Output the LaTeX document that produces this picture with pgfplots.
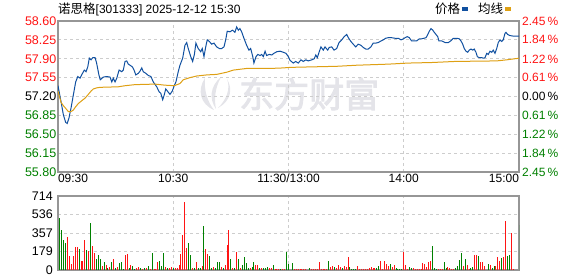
\documentclass[border=0pt]{standalone}
\usepackage{fontspec}
\setmainfont{Liberation Sans}
\newfontfamily\cjk{Noto Sans CJK SC}
\newfontfamily\cjkbold[FakeBold=2.5]{Noto Sans CJK SC}
\usepackage{pgfplots}
\pgfplotsset{compat=1.18}
\definecolor{pblue}{RGB}{16,80,160}
\definecolor{avgor}{RGB}{222,160,20}
\definecolor{upred}{RGB}{255,20,20}
\definecolor{dngreen}{RGB}{0,128,0}
\definecolor{framec}{RGB}{150,150,150}
\definecolor{gridc}{RGB}{205,205,205}
\definecolor{wm}{RGB}{228,228,233}
\begin{document}
\begin{tikzpicture}[x=1pt,y=1pt]
\path[use as bounding box] (0,0) rectangle (578,276);
% watermark logo and text
\fill[wm] (214,166) .. controls (200,172) and (197,186) .. (205,198) .. controls (204,186) and (207,175) .. (214,166);
\fill[wm] (216,167) .. controls (209,177) and (210,190) .. (221,199) .. controls (215,188) and (214,177) .. (216,167);
\fill[wm] (218,168) .. controls (226,176) and (231,187) .. (227,197) .. controls (233,187) and (231,175) .. (218,168);
\node[text=wm, font=\cjkbold\fontsize{35}{35}\selectfont, anchor=west, inner sep=0pt] at (239,182) {东方财富};
\node[anchor=west, inner sep=0pt] at (58,267) {{\cjk\fontsize{12.5}{12.5}\selectfont 诺思格}\fontsize{12}{12}\selectfont[301333] 2025-12-12 15:30};
% price axis
\begin{axis}[
  at={(58pt,104pt)}, anchor=south west,
  scale only axis, width=461pt, height=151pt,
  xmin=0, xmax=240, ymin=55.80, ymax=58.60,
  axis line style={framec, line width=1.1pt},
  tick style={draw=none},
  /pgf/number format/assume math mode=true,
  xtick={0,60,120,180,240},
  xticklabels={\makebox[0pt][l]{09:30},10:30,11:30/13:00,14:00,\makebox[0pt][r]{15:00}},
  xticklabel style={font=\fontsize{12}{12}\selectfont, inner sep=1pt, yshift=-1pt},
  ytick={55.80,56.15,56.50,56.85,57.20,57.55,57.90,58.25,58.60},
  yticklabels={\textcolor{dngreen}{55.80},\textcolor{dngreen}{56.15},\textcolor{dngreen}{56.50},\textcolor{dngreen}{56.85},57.20,\textcolor{upred}{57.55},\textcolor{upred}{57.90},\textcolor{upred}{58.25},\textcolor{upred}{58.60}},
  yticklabel style={font=\fontsize{12.5}{12.5}\selectfont, inner sep=1.5pt},
  xmajorgrids, ymajorgrids,
  major grid style={gridc, dash pattern=on 3pt off 3pt, line width=0.8pt},
  legend style={at={(axis description cs:0.99,1.08)}, anchor=east, draw=none, fill=none,
    font=\cjk\fontsize{12.5}{12.5}\selectfont, legend columns=2,
    /tikz/every even column/.append style={column sep=8pt}},
  legend plot pos=right,
  legend image code/.code={\fill (1pt,-1.5pt) rectangle (6pt,1.5pt);},
]
\addplot[color=pblue, line width=1pt] coordinates {
(0,57.40)(1.6,57.10)(2.8,56.86)(4.0,56.72)(4.8,56.70)(5.7,56.80)(6.8,56.99)(8.0,57.23)(9.2,57.47)(10.3,57.57)
(11.5,57.54)(12.3,57.60)(13.7,57.69)(14.6,57.66)(15.5,57.75)(16.3,57.91)(17.2,57.88)(18.1,57.92)(19.3,57.92)(20.1,57.82)
(21.3,57.60)(22.0,57.51)(23.6,57.56)(25.4,57.57)(27.1,57.56)(28.0,57.47)(28.8,57.54)(29.7,57.47)(30.6,57.54)(31.8,57.69)
(33.2,57.66)(34.0,57.69)(34.9,57.85)(35.8,57.86)(36.6,57.80)(37.5,57.78)(38.7,57.75)(39.6,57.69)(40.5,57.60)(41.8,57.63)
(42.7,57.67)(43.6,57.73)(44.4,57.66)(45.7,57.63)(47.0,57.59)(48.4,57.57)(49.6,57.47)(51.4,57.38)(52.6,57.29)(53.5,57.26)
(54.5,57.14)(55.3,57.23)(56.1,57.34)(57.4,57.28)(58.3,57.24)(59.5,57.30)(60.5,57.40)(61.4,57.47)(62.6,57.66)(63.5,57.78)
(64.9,57.91)(66.1,58.15)(67.0,58.20)(67.8,58.09)(69.1,57.94)(70.1,57.85)(71.0,57.98)(71.8,58.19)(73.0,58.09)(74.3,58.03)
(75.1,58.09)(76.0,57.94)(76.9,58.12)(77.7,58.25)(78.8,58.22)(80.0,58.17)(81.2,58.19)(82.6,58.12)(84.0,58.09)(85.2,58.09)
(86.4,58.12)(87.3,58.25)(88.1,58.41)(89.5,58.40)(90.9,58.43)(92.1,58.39)(93.0,58.49)(93.9,58.43)(94.7,58.46)(95.6,58.40)
(96.8,58.28)(98.2,58.15)(99.4,58.06)(100.3,58.09)(101.4,57.94)(102.0,57.82)(103.1,57.94)(104.0,57.98)(105.2,57.96)(106.0,57.98)
(106.9,57.94)(107.8,58.04)(108.6,57.96)(110.0,57.98)(111.3,57.97)(112.4,58.00)(113.9,58.03)(115.6,58.04)(117.3,58.02)(118.7,58.00)
(119.9,57.94)(120.8,57.87)(122.5,57.82)(123.7,57.85)(125.1,57.82)(126.5,57.88)(127.7,57.85)(129.0,57.88)(130.3,57.86)(132.1,57.88)
(133.4,57.90)(134.2,57.97)(135.0,57.92)(135.9,58.02)(136.9,58.12)(138.1,58.06)(139.0,58.12)(140.4,58.06)(141.2,58.11)(142.5,58.12)
(143.7,58.06)(145.1,58.09)(146.3,58.20)(147.7,58.25)(149.0,58.31)(150.3,58.35)(151.5,58.27)(152.5,58.22)(153.7,58.17)(155.0,58.12)
(156.3,58.17)(157.7,58.15)(158.9,58.11)(160.2,58.08)(161.5,58.08)(162.9,58.12)(164.1,58.19)(165.4,58.19)(166.7,58.20)(168.2,58.23)
(169.3,58.25)(170.6,58.28)(171.9,58.29)(173.7,58.29)(175.4,58.28)(177.2,58.28)(178.6,58.25)(179.8,58.27)(180.7,58.29)(181.8,58.31)
(182.9,58.29)(184.1,58.23)(185.3,58.23)(186.7,58.23)(188.1,58.27)(189.3,58.27)(190.5,58.28)(191.6,58.29)(192.5,58.35)(193.3,58.41)
(194.2,58.46)(195.1,58.43)(195.9,58.39)(196.8,58.35)(197.7,58.31)(198.3,58.23)(199.8,58.23)(201.5,58.20)(203.2,58.20)(204.4,58.23)
(205.8,58.28)(207.6,58.28)(208.9,58.27)(209.8,58.23)(210.7,58.17)(211.5,58.09)(212.4,58.04)(213.3,58.02)(214.1,58.06)(215.0,58.08)
(215.9,58.06)(216.7,58.08)(217.6,58.02)(218.3,57.94)(219.3,57.92)(220.6,57.92)(221.4,57.91)(222.3,57.92)(223.2,58.00)(224.0,57.98)
(224.9,58.04)(225.8,58.02)(226.6,58.06)(227.5,58.00)(228.4,58.09)(229.2,58.20)(230.1,58.25)(231.0,58.22)(231.8,58.25)(232.7,58.37)
(233.2,58.39)(234.1,58.35)(235.3,58.33)(237.0,58.32)(240,58.32)
};
\addlegendentry{价格}
\addplot[color=avgor, line width=1pt] coordinates {
(0,57.30)(1.6,57.09)(2.8,57.03)(4.0,56.98)(5.4,56.92)(6.8,56.92)(8.0,56.95)(9.2,57.01)(10.6,57.07)(12.3,57.12)
(14.1,57.17)(15.8,57.24)(17.2,57.30)(18.4,57.34)(20.1,57.36)(21.9,57.37)(31.4,57.38)(34.9,57.40)(40.1,57.42)(50.5,57.43)
(55.7,57.41)(60.5,57.40)(63.5,57.44)(65.2,57.51)(68.7,57.55)(72.2,57.58)(77.4,57.60)(82.6,57.61)(87.8,57.65)(91.3,57.69)
(98.2,57.72)(110.4,57.72)(117.3,57.73)(120.8,57.74)(145.1,57.76)(155.5,57.78)(171.9,57.80)(182.4,57.82)(194.5,57.83)(206.7,57.85)
(228.4,57.86)(233.6,57.88)(240,57.91)
};
\addlegendentry{均线}
\end{axis}
% percent axis
\begin{axis}[
  at={(58pt,104pt)}, anchor=south west,
  scale only axis, width=461pt, height=151pt,
  xmin=0, xmax=240, ymin=-2.45, ymax=2.45,
  axis line style={draw=none}, tick style={draw=none},
  xtick=\empty,
  yticklabel pos=right,
  ytick={-2.45,-1.84,-1.22,-0.61,0,0.61,1.22,1.84,2.45},
  yticklabels={\textcolor{dngreen}{2.45\,\%},\textcolor{dngreen}{1.84\,\%},\textcolor{dngreen}{1.22\,\%},\textcolor{dngreen}{0.61\,\%},0.00\,\%,\textcolor{upred}{0.61\,\%},\textcolor{upred}{1.22\,\%},\textcolor{upred}{1.84\,\%},\textcolor{upred}{2.45\,\%}},
  yticklabel style={font=\fontsize{12}{12}\selectfont, inner sep=1pt, xshift=2pt},
]
\end{axis}
% volume axis
\begin{axis}[
  at={(58pt,6pt)}, anchor=south west,
  scale only axis, width=461pt, height=74pt,
  xmin=0, xmax=240, ymin=0, ymax=714,
  axis line style={framec, line width=1.1pt},
  tick style={draw=none},
  /pgf/number format/assume math mode=true,
  xtick={0,60,120,180,240}, xticklabels={},
  ytick={0,179,357,536,714},
  yticklabels={0,179,357,536,714},
  yticklabel style={font=\fontsize{12.5}{12.5}\selectfont, inner sep=1pt, xshift=-4pt},
  xmajorgrids, ymajorgrids,
  major grid style={gridc, dash pattern=on 3pt off 3pt, line width=0.8pt},
]
\addplot[ycomb, color=upred, line width=1pt, mark=none] coordinates {
(5,322)(6,138)(7,58)(8,138)(9,225)(10,225)(12,87)(13,87)(14,290)(16,183)(18,235)(19,161)(23,42)(25,48)(27,32)(29,106)
(31,32)(35,145)(36,154)(38,48)(41,16)(42,32)(44,10)(46,22)(48,10)(50,10)(51,10)(52,74)(56,32)(58,16)(59,32)(61,16)
(62,16)(63,48)(64,151)(65,338)(66,660)(67,215)(70,16)(72,74)(75,39)(77,203)(78,154)(81,32)(85,32)(87,48)(88,241)(89,386)
(91,16)(93,170)(95,16)(100,16)(103,48)(104,48)(106,16)(110,16)(111,16)(113,10)(114,10)(115,10)(117,10)(118,10)
(123,10)(124,10)(125,10)(126,10)(127,10)(128,10)(129,10)(132,10)(133,10)(134,10)(135,10)(136,74)(137,10)(138,10)(139,10)(140,10)
(142,26)(143,39)(145,22)(146,48)(147,32)(149,39)(150,32)(151,129)(156,39)(157,10)(158,10)(159,10)(160,10)(161,10)
(162,22)(163,26)(164,16)(165,22)(168,87)(169,10)(170,87)(171,58)(172,39)(174,32)(175,48)(180,177)(181,48)(182,10)(185,19)
(186,10)(187,10)(188,10)(189,10)(190,71)(191,58)(192,32)(193,80)(194,87)(198,10)(199,10)(200,10)(203,32)(204,16)(205,10)(206,10)
(211,39)(213,48)(214,10)(217,145)(218,145)(220,74)(221,74)(222,39)(225,48)(228,39)(229,129)(230,87)(232,129)(233,473)(236,360)(237,10)
};
\addplot[ycomb, color=dngreen, line width=1pt, mark=none] coordinates {
(1,505)(2,386)(3,290)(4,257)(11,203)(15,193)(17,457)(20,106)(21,145)(22,106)(24,74)(26,16)(28,74)(30,16)(32,64)(33,80)
(34,10)(37,16)(39,39)(40,10)(43,22)(45,16)(47,39)(49,161)(53,87)(54,42)(55,161)(57,16)(60,22)(68,257)(69,145)(71,16)
(73,16)(74,22)(76,425)(79,135)(80,16)(82,16)(83,74)(84,74)(86,22)(90,106)(92,16)(94,106)(96,48)(97,129)(98,64)(99,22)
(101,32)(102,74)(105,16)(107,22)(108,22)(109,32)(112,48)(116,10)(119,177)(120,55)(122,64)(131,19)(141,87)(144,32)(148,16)
(152,32)(153,10)(154,10)(155,10)(166,16)(167,42)(173,58)(176,19)(177,10)(178,10)(179,10)(183,32)(184,16)(195,232)(196,16)
(197,10)(201,80)(202,16)(207,16)(208,39)(209,96)(210,167)(212,106)(215,16)(216,32)(219,135)(224,55)(226,16)(227,39)
(231,112)(234,138)(235,145)(240,434)
};
\end{axis}
\end{tikzpicture}
\end{document}
